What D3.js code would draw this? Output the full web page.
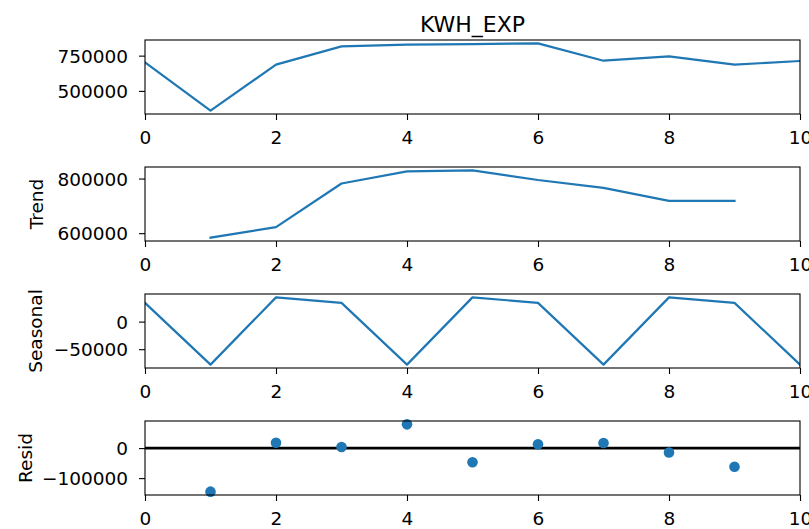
<!DOCTYPE html>
<html><head><meta charset="utf-8">
<script src="https://cdn.jsdelivr.net/npm/d3@7"></script>
<style>
html,body{margin:0;padding:0;background:#fff;}
svg{display:block;font-family:"DejaVu Sans",sans-serif;}
</style></head>
<body>
<svg id="chart" width="809" height="529"></svg>
<script>
const xs = [0,1,2,3,4,5,6,7,8,9,10];
const xTicks = [0,2,4,6,8,10];
const observed = [702000, 360000, 686000, 816000, 828000, 832000, 837000, 714000, 745000, 686000, 712000];
const trend    = [null, 583600, 621800, 782000, 826000, 830000, 794700, 766000, 718000, 718000, null];
const seasonal = [34000, -78000, 44000, 34000, -78000, 44000, 34000, -78000, 44000, 34000, -78000];
const resid    = [null, -145000, 18000, 3400, 79000, -47000, 12500, 17000, -14500, -62000, null];
const yTicksObs = [500000, 750000];
const yTicksTrend = [600000, 800000];
const yTicksSeas = [-50000, 0];
const yTicksResid = [-100000, 0];
const title = "KWH_EXP";
const yLabels = ["", "Trend", "Seasonal", "Resid"];

const svg = d3.select("#chart");
const left = 145, right = 800;
const tops = [40, 167, 294, 421];
const H = 74;
const blue = "#1f77b4";
const fs = 18.5;

const x = d3.scaleLinear().domain([0,10]).range([left, right]);

const panels = [
  {vals: observed, ticks: yTicksObs, type: "line", label: yLabels[0], labX: 43},
  {vals: trend, ticks: yTicksTrend, type: "line", label: yLabels[1], labX: 43},
  {vals: seasonal, ticks: yTicksSeas, type: "line", label: yLabels[2], labX: 42},
  {vals: resid, ticks: yTicksResid, type: "dots", label: yLabels[3], labX: 32}
];

const fmt = v => d3.format("d")(v).replace("-", "\u2212");

panels.forEach((p, i) => {
  const top = tops[i], bot = top + H;
  const ext = d3.extent(p.vals.filter(v => v !== null));
  const pad = (ext[1] - ext[0]) * 0.05;
  const y = d3.scaleLinear().domain([ext[0] - pad, ext[1] + pad]).range([bot, top]);
  const g = svg.append("g");

  const clipId = "clip" + i;
  svg.append("clipPath").attr("id", clipId).append("rect")
    .attr("x", left).attr("y", top).attr("width", right - left).attr("height", H);

  const data = xs.map((xv, k) => ({x: xv, y: p.vals[k]})).filter(d => d.y !== null);

  if (p.type === "line") {
    g.append("path").datum(data)
      .attr("clip-path", `url(#${clipId})`)
      .attr("fill", "none").attr("stroke", blue).attr("stroke-width", 2.2)
      .attr("stroke-linejoin", "round").attr("stroke-linecap", "square")
      .attr("d", d3.line().x(d => x(d.x)).y(d => y(d.y)));
  } else {
    g.append("line").attr("x1", x(0)).attr("x2", x(10))
      .attr("y1", y(0)).attr("y2", y(0))
      .attr("stroke", "#000").attr("stroke-width", 2.8);
    g.selectAll("circle").data(data).enter().append("circle")
      .attr("cx", d => x(d.x)).attr("cy", d => y(d.y)).attr("r", 5.3)
      .attr("fill", blue);
  }

  // frame
  g.append("rect").attr("x", left).attr("y", top).attr("width", right - left).attr("height", H)
    .attr("fill", "none").attr("stroke", "#000").attr("stroke-width", 1.1);

  // x axis
  const xa = g.append("g").attr("transform", `translate(0,${bot})`)
    .call(d3.axisBottom(x).tickValues(xTicks).tickFormat(d3.format("d")).tickSize(6).tickPadding(8));
  xa.select(".domain").remove();
  xa.selectAll("line").attr("stroke", "#000").attr("stroke-width", 1.1);
  xa.selectAll("text").attr("font-size", fs).attr("fill", "#000")
    .attr("font-family", "DejaVu Sans").attr("dy", null).attr("y", 30);

  // y axis
  const ya = g.append("g").attr("transform", `translate(${left},0)`)
    .call(d3.axisLeft(y).tickValues(p.ticks).tickFormat(fmt).tickSize(6).tickPadding(11));
  ya.select(".domain").remove();
  ya.selectAll("line").attr("stroke", "#000").attr("stroke-width", 1.1);
  ya.selectAll("text").attr("font-size", fs).attr("fill", "#000")
    .attr("font-family", "DejaVu Sans").attr("dy", "0.36em");

  if (p.label) {
    svg.append("text").attr("transform", `translate(${p.labX},${top + H/2}) rotate(-90)`)
      .attr("text-anchor", "middle").attr("font-size", fs).attr("fill", "#000")
      .text(p.label);
  }
});

svg.append("text").attr("x", (left + right) / 2).attr("y", 32)
  .attr("text-anchor", "middle").attr("font-size", 22).attr("fill", "#000")
  .text(title);
</script>
</body></html>
